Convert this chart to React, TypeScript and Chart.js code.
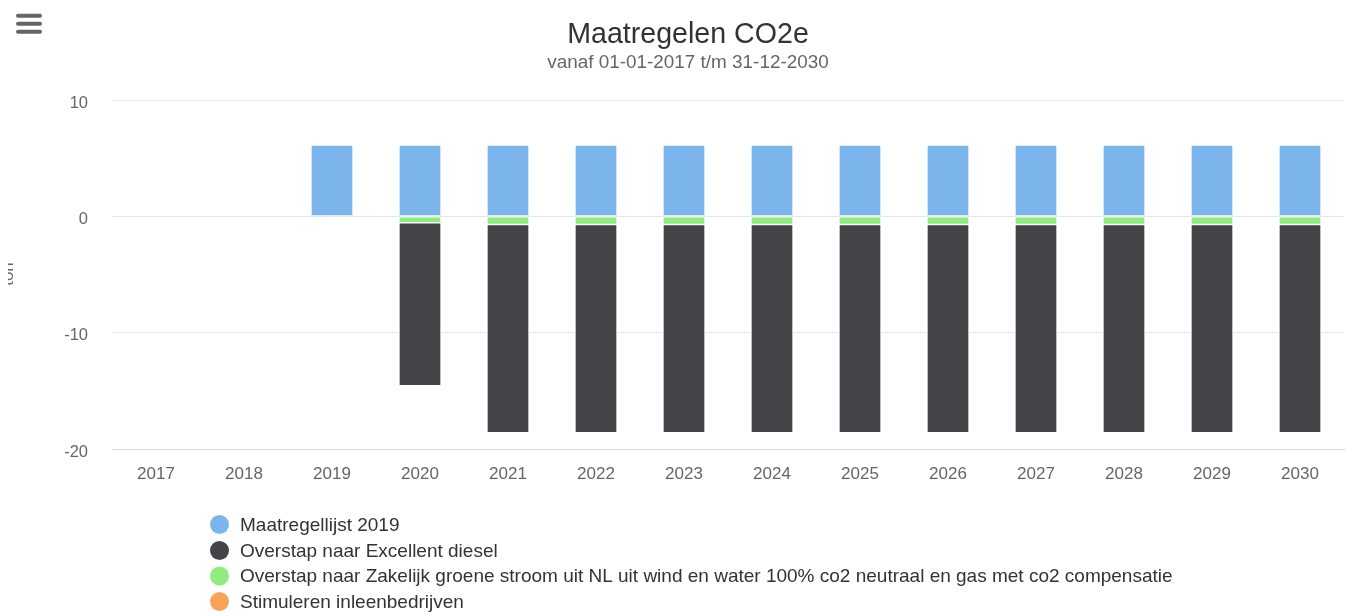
import React, { useEffect, useRef } from "react";
import { Chart, registerables } from "chart.js";

Chart.register(...registerables);

const FONT = '"Liberation Sans", Arial, Helvetica, sans-serif';

const TITLE = "Maatregelen CO2e";
const SUBTITLE = "vanaf 01-01-2017 t/m 31-12-2030";
const Y_TITLE = "ton";

const categories = [
  "2017", "2018", "2019", "2020", "2021", "2022", "2023",
  "2024", "2025", "2026", "2027", "2028", "2029", "2030",
];

const maatregellijst2019 = [0, 0, 6.13, 6.13, 6.13, 6.13, 6.13, 6.13, 6.13, 6.13, 6.13, 6.13, 6.13, 6.13];
const excellentDiesel = [0, 0, 0, -14.0, -17.9, -17.9, -17.9, -17.9, -17.9, -17.9, -17.9, -17.9, -17.9, -17.9];
const groeneStroom = [0, 0, 0, -0.55, -0.7, -0.7, -0.7, -0.7, -0.7, -0.7, -0.7, -0.7, -0.7, -0.7];
const inleenbedrijven = [0, 0, 0, 0, 0, 0, 0, 0, 0, 0, 0, 0, 0, 0];

const seriesNames = [
  "Maatregellijst 2019",
  "Overstap naar Excellent diesel",
  "Overstap naar Zakelijk groene stroom uit NL uit wind en water 100% co2 neutraal en gas met co2 compensatie",
  "Stimuleren inleenbedrijven",
];
const seriesColors = ["#7cb5ec", "#434348", "#90ed7d", "#f7a35c"];

const yTicks = [10, 0, -10, -20];
const Y_MIN = -20;
const Y_MAX = 10;

const overlayPlugin = {
  id: "overlay",
  afterDraw(chart: any) {
    const ctx = chart.ctx as CanvasRenderingContext2D;
    ctx.save();

    // menu button
    ctx.strokeStyle = "#666666";
    ctx.lineWidth = 4;
    ctx.lineCap = "round";
    [7.7, 15.7, 23.7].forEach((y) => {
      ctx.beginPath();
      ctx.moveTo(10, y);
      ctx.lineTo(32, y);
      ctx.stroke();
    });

    // title + subtitle
    ctx.textAlign = "center";
    ctx.textBaseline = "alphabetic";
    ctx.fillStyle = "#333333";
    ctx.font = `28.6px ${FONT}`;
    ctx.fillText(TITLE, 680, 35);
    ctx.fillStyle = "#666666";
    ctx.font = `18.9px ${FONT}`;
    ctx.fillText(SUBTITLE, 680, 60);

    // y axis title (clipped at left edge)
    ctx.save();
    ctx.translate(5, 266);
    ctx.rotate(-Math.PI / 2);
    ctx.font = `17px ${FONT}`;
    ctx.fillStyle = "#666666";
    ctx.textAlign = "center";
    ctx.textBaseline = "alphabetic";
    ctx.fillText(Y_TITLE, 0, 0);
    ctx.restore();

    // legend
    const ys = [516.5, 542.5, 568, 593.5];
    ctx.font = `19px ${FONT}`;
    ctx.textAlign = "left";
    ctx.textBaseline = "middle";
    seriesNames.forEach((name, i) => {
      ctx.beginPath();
      ctx.fillStyle = seriesColors[i];
      ctx.arc(211.5, ys[i], 9.5, 0, Math.PI * 2);
      ctx.fill();
      ctx.fillStyle = "#333333";
      ctx.fillText(name, 232, ys[i] + 1);
    });

    ctx.restore();
  },
};

export default function App() {
  const canvasRef = useRef<HTMLCanvasElement | null>(null);

  useEffect(() => {
    if (!canvasRef.current) return;
    const barCommon = {
      borderColor: "#ffffff",
      borderWidth: 1,
      borderSkipped: false as const,
      barThickness: 42,
    };
    const chart = new Chart(canvasRef.current, {
      type: "bar",
      data: {
        labels: categories,
        datasets: [
          { label: seriesNames[3], data: inleenbedrijven, backgroundColor: seriesColors[3], ...barCommon },
          { label: seriesNames[2], data: groeneStroom, backgroundColor: seriesColors[2], ...barCommon },
          { label: seriesNames[1], data: excellentDiesel, backgroundColor: seriesColors[1], ...barCommon },
          { label: seriesNames[0], data: maatregellijst2019, backgroundColor: seriesColors[0], ...barCommon },
        ],
      },
      options: {
        animation: false,
        responsive: true,
        maintainAspectRatio: false,
        layout: { padding: { top: 92, right: 4, left: 0, bottom: 0 } },
        plugins: {
          legend: { display: false },
          tooltip: { enabled: false },
          title: { display: false },
        },
        scales: {
          x: {
            stacked: true,
            grid: { display: false },
            border: { display: true, color: "#ccd6eb", width: 1 },
            ticks: {
              color: "#666666",
              font: { family: FONT, size: 17 },
              padding: 7,
              maxRotation: 0,
              autoSkip: false,
            },
            afterFit: (scale: any) => {
              scale.height = 163;
            },
          },
          y: {
            stacked: true,
            min: Y_MIN,
            max: Y_MAX,
            grid: { color: "#e6e6e6", lineWidth: 1, drawTicks: false },
            border: { display: false },
            ticks: {
              color: "#666666",
              font: { family: FONT, size: 16.5 },
              padding: 24,
              labelOffset: 3,
              callback: (v: any) => String(v),
            },
            afterBuildTicks: (scale: any) => {
              scale.ticks = yTicks.map((v) => ({ value: v }));
            },
            afterFit: (scale: any) => {
              scale.width = 104;
            },
          },
        },
      },
      plugins: [overlayPlugin],
    });
    return () => chart.destroy();
  }, []);

  return (
    <div style={{ position: "absolute", left: 8, top: 8, width: 1340, height: 604 }}>
      <canvas ref={canvasRef} />
    </div>
  );
}
